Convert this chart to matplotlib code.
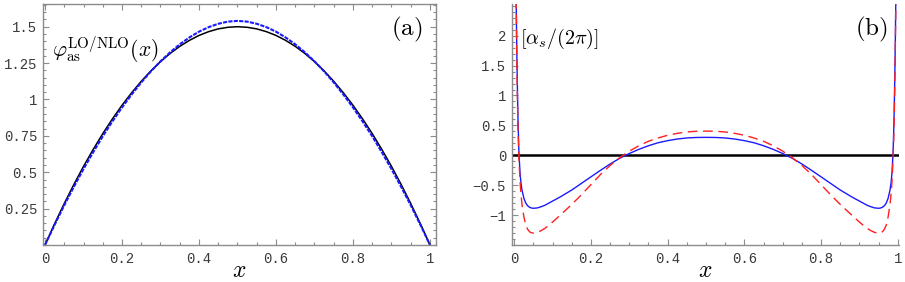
import matplotlib
matplotlib.use("Agg")
import matplotlib.pyplot as plt
from matplotlib.ticker import FixedLocator, MultipleLocator

# ---------------- data ----------------
# panel (a)
xa = [0.0, 0.025, 0.05, 0.075, 0.10, 0.125, 0.15, 0.175, 0.20, 0.225, 0.25,
      0.275, 0.30, 0.325, 0.35, 0.375, 0.40, 0.425, 0.45, 0.475, 0.50,
      0.525, 0.55, 0.575, 0.60, 0.625, 0.65, 0.675, 0.70, 0.725, 0.75,
      0.775, 0.80, 0.825, 0.85, 0.875, 0.90, 0.925, 0.95, 0.975, 1.0]
phi_lo = [0.0, 0.146, 0.285, 0.416, 0.54, 0.656, 0.765, 0.866, 0.96, 1.046, 1.125,
          1.196, 1.26, 1.316, 1.365, 1.406, 1.44, 1.466, 1.485, 1.496, 1.5,
          1.496, 1.485, 1.466, 1.44, 1.406, 1.365, 1.316, 1.26, 1.196, 1.125,
          1.046, 0.96, 0.866, 0.765, 0.656, 0.54, 0.416, 0.285, 0.146, 0.0]
phi_nlo = [0.0, 0.139, 0.273, 0.400, 0.522, 0.637, 0.747, 0.849, 0.945, 1.034, 1.117,
           1.193, 1.262, 1.324, 1.379, 1.426, 1.466, 1.497, 1.520, 1.535, 1.540,
           1.535, 1.520, 1.497, 1.466, 1.426, 1.379, 1.324, 1.262, 1.193, 1.117,
           1.034, 0.945, 0.849, 0.747, 0.637, 0.522, 0.400, 0.273, 0.139, 0.0]

# panel (b)
xb = [0.004, 0.005, 0.006, 0.007, 0.008, 0.009, 0.010, 0.012, 0.015, 0.0175,
      0.02, 0.025, 0.03, 0.035, 0.04, 0.045, 0.05, 0.06, 0.07, 0.08, 0.09,
      0.10, 0.12, 0.15, 0.175, 0.20, 0.225, 0.25, 0.275, 0.30, 0.325, 0.35,
      0.375, 0.40, 0.425, 0.45, 0.475, 0.50,
      0.525, 0.55, 0.575, 0.60, 0.625, 0.65, 0.675, 0.70, 0.725, 0.75, 0.775,
      0.80, 0.825, 0.85, 0.88, 0.90, 0.91, 0.92, 0.93, 0.94, 0.95, 0.955,
      0.96, 0.965, 0.97, 0.975, 0.98, 0.9825, 0.985, 0.988, 0.99, 0.991,
      0.992, 0.993, 0.994, 0.995, 0.996]
blue_b = [3.2, 2.55, 2.0, 1.55, 1.15, 0.8, 0.5, 0.05, -0.3, -0.47,
          -0.58, -0.72, -0.80, -0.845, -0.87, -0.882, -0.886, -0.88, -0.86, -0.835, -0.80,
          -0.765, -0.695, -0.58, -0.47, -0.36, -0.25, -0.145, -0.05, 0.03, 0.10, 0.16,
          0.21, 0.245, 0.272, 0.29, 0.298, 0.30,
          0.298, 0.29, 0.272, 0.245, 0.21, 0.16, 0.10, 0.03, -0.05, -0.145, -0.25,
          -0.36, -0.47, -0.58, -0.695, -0.765, -0.80, -0.835, -0.86, -0.88, -0.886, -0.882,
          -0.87, -0.845, -0.80, -0.72, -0.58, -0.47, -0.3, 0.05, 0.5, 0.8,
          1.15, 1.55, 2.0, 2.55, 3.2]
red_b = [3.2, 2.5, 1.9, 1.4, 1.0, 0.65, 0.35, -0.05, -0.45, -0.66,
         -0.82, -1.03, -1.17, -1.24, -1.28, -1.297, -1.30, -1.29, -1.26, -1.22, -1.17,
         -1.115, -1.0, -0.82, -0.66, -0.49, -0.32, -0.17, -0.04, 0.07, 0.16, 0.235,
         0.29, 0.335, 0.367, 0.39, 0.402, 0.405,
         0.402, 0.39, 0.367, 0.335, 0.29, 0.235, 0.16, 0.07, -0.04, -0.17, -0.32,
         -0.49, -0.66, -0.82, -1.0, -1.115, -1.17, -1.22, -1.26, -1.29, -1.30, -1.297,
         -1.28, -1.24, -1.17, -1.03, -0.82, -0.66, -0.45, -0.05, 0.35, 0.65,
         1.0, 1.4, 1.9, 2.5, 3.2]
zero_x = [-0.0068, 1.0034]
zero_line = [0.0, 0.0]

# tick labels
x_ticks = [0, 0.2, 0.4, 0.6, 0.8, 1.0]
x_ticklabels = ["0", "0.2", "0.4", "0.6", "0.8", "1"]
ya_ticks = [0.25, 0.5, 0.75, 1.0, 1.25, 1.5]
ya_ticklabels = ["0.25", "0.5", "0.75", "1", "1.25", "1.5"]
yb_ticks = [-1, -0.5, 0, 0.5, 1, 1.5, 2]
yb_ticklabels = ["\u22121", "\u22120.5", "0", "0.5", "1", "1.5", "2"]

# ---------------- style ----------------
plt.rcParams['mathtext.fontset'] = 'cm'
W, H = 905, 282
fig = plt.figure(figsize=(W / 100, H / 100), dpi=100)

frame_col = '#8c8c8c'


def style_ticks(ax, sides_all):
    ax.tick_params(which='both', direction='in', color=frame_col, width=0.8,
                   top=sides_all, right=sides_all, labelsize=10, labelcolor='#3a3a3a')
    ax.tick_params(which='major', length=4.0)
    ax.tick_params(which='minor', length=2.0)
    for lab in ax.get_xticklabels() + ax.get_yticklabels():
        lab.set_fontfamily('Liberation Mono')


# ---- panel (a)
axa = fig.add_axes([43 / W, (H - 245) / H, 393 / W, 241 / H])
axa.plot(xa, phi_lo, color='black', lw=1.1)
axa.plot(xa, phi_nlo, color='#1a1aff', lw=1.5, ls=(0, (2.0, 0.6)))
axa.set_xlim(-0.0052, 1.0156)
axa.set_ylim(0.0, 1.656)
axa.xaxis.set_major_locator(FixedLocator(x_ticks))
axa.set_xticklabels(x_ticklabels)
axa.yaxis.set_major_locator(FixedLocator(ya_ticks))
axa.set_yticklabels(ya_ticklabels)
axa.xaxis.set_minor_locator(MultipleLocator(0.05))
axa.yaxis.set_minor_locator(MultipleLocator(0.05))
for s in axa.spines.values():
    s.set_color(frame_col)
    s.set_linewidth(1.0)
style_ticks(axa, True)
axa.tick_params(axis='x', pad=5)
axa.tick_params(axis='y', pad=4)
axa.set_xlabel(r'$x$', fontsize=17, labelpad=-6)
axa.text(0.965, 0.955, r'$(\mathrm{a})$', transform=axa.transAxes, fontsize=18,
         ha='right', va='top')
axa.text(0.022, 0.875, r'$\varphi_{\mathrm{as}}^{\mathrm{LO/NLO}}(x)$', transform=axa.transAxes,
         fontsize=15.5, ha='left', va='top')

# ---- panel (b)
axb = fig.add_axes([511.7 / W, (H - 245) / H, 387.3 / W, 241 / H])
axb.plot(zero_x, zero_line, color='black', lw=1.8)
axb.plot(xb, blue_b, color='#1a1aff', lw=1.0)
axb.plot(xb, red_b, color='#ff2020', lw=1.0, ls=(0, (7, 4)))
axb.set_xlim(-0.0068, 1.0034)
axb.set_ylim(-1.5, 2.53)
axb.xaxis.set_major_locator(FixedLocator(x_ticks))
axb.set_xticklabels(x_ticklabels)
axb.yaxis.set_major_locator(FixedLocator(yb_ticks))
axb.set_yticklabels(yb_ticklabels)
axb.xaxis.set_minor_locator(MultipleLocator(0.05))
axb.yaxis.set_minor_locator(MultipleLocator(0.1))
axb.spines['top'].set_visible(False)
axb.spines['right'].set_visible(False)
for s in ('left', 'bottom'):
    axb.spines[s].set_color(frame_col)
    axb.spines[s].set_linewidth(1.0)
style_ticks(axb, False)
axb.tick_params(axis='x', pad=5)
axb.tick_params(axis='y', pad=4)
axb.set_xlabel(r'$x$', fontsize=17, labelpad=-6)
axb.text(0.97, 0.955, r'$(\mathrm{b})$', transform=axb.transAxes, fontsize=18,
         ha='right', va='top')
axb.text(0.022, 0.905, r'$[\alpha_s/(2\pi)]$', transform=axb.transAxes,
         fontsize=14.5, ha='left', va='top')

fig.savefig('out.png', dpi=100)
